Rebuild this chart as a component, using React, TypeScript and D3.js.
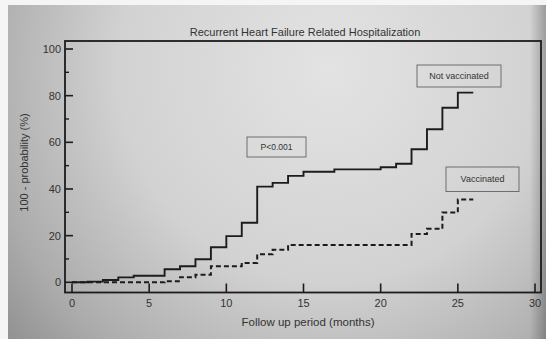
import React from "react";
import * as d3 from "d3";

// Kaplan–Meier style cumulative event curves (100 - survival probability, %)
const notVaccinatedMonths = [0, 1, 2, 3, 4, 6, 7, 8, 9, 10, 11, 12, 13, 14, 15, 17, 20, 21, 22, 23, 24, 25];
const notVaccinatedValues = [0, 0.3, 1.0, 2.1, 2.8, 5.6, 6.9, 9.9, 15.0, 19.8, 25.5, 41.0, 42.6, 45.6, 47.4, 48.4, 49.3, 50.8, 57.0, 65.6, 74.8, 81.3];
const notVaccinatedEnd = 26;

const vaccinatedMonths = [0, 6, 7, 8, 9, 11, 12, 13, 14, 22, 23, 24, 25];
const vaccinatedValues = [0, 0.5, 2.2, 3.2, 6.9, 8.3, 12.0, 14.0, 16.0, 20.7, 22.9, 29.9, 35.5];
const vaccinatedEnd = 26;

const xTicks = [0, 5, 10, 15, 20, 25, 30];
const yTicks = [0, 20, 40, 60, 80, 100];
const yMinorTicks = [10, 30, 50, 70, 90];

const title = "Recurrent Heart Failure Related Hospitalization";
const xTitle = "Follow up period (months)";
const yTitle = "100 - probability (%)";

const W = 546;
const H = 339;
const frame = { left: 65, right: 541, top: 41, bottom: 292.5 };

const x = d3.scaleLinear().domain([0, 30]).range([72, 535]);
const y = d3.scaleLinear().domain([0, 100]).range([282.3, 49]);

function stepPath(months: number[], values: number[], end: number) {
  const pts: [number, number][] = months.map((m, i) => [m, values[i]]);
  pts.push([end, values[values.length - 1]]);
  return d3
    .line<[number, number]>()
    .x((d) => x(d[0]))
    .y((d) => y(d[1]))
    .curve(d3.curveStepAfter)(pts) as string;
}

const font = "'Liberation Sans', Arial, sans-serif";
const ink = "#1c1c1c";
const textInk = "#333";

function LabelBox({ x0, y0, w, h, text, size }: { x0: number; y0: number; w: number; h: number; text: string; size: number }) {
  return (
    <g>
      <rect x={x0} y={y0} width={w} height={h} fill="none" stroke="#6e6e6e" strokeWidth={1} />
      <text x={x0 + w / 2} y={y0 + h / 2 + size * 0.35} textAnchor="middle" fontSize={size} fill={textInk} fontFamily={font}>
        {text}
      </text>
    </g>
  );
}

export default function App() {
  return (
    <svg
      width={W}
      height={H}
      viewBox={`0 0 ${W} ${H}`}
      style={{ position: "absolute", left: 0, top: 0 }}
    >
      <defs>
        <radialGradient id="paper" cx="330" cy="70" r="470" gradientUnits="userSpaceOnUse">
          <stop offset="0" stopColor="#e3e3e3" />
          <stop offset="0.45" stopColor="#d2d2d2" />
          <stop offset="0.75" stopColor="#ababab" />
          <stop offset="1" stopColor="#7e7e7e" />
        </radialGradient>
        <linearGradient id="edge" x1="0" x2="1" y1="0" y2="0">
          <stop offset="0" stopColor="#000" stopOpacity="0" />
          <stop offset="0.97" stopColor="#000" stopOpacity="0" />
          <stop offset="1" stopColor="#000" stopOpacity="0.25" />
        </linearGradient>
      </defs>

      <rect x={0} y={0} width={W} height={H} fill="#f5f5f5" />
      <rect x={8} y={5} width={W - 8} height={H - 5} fill="url(#paper)" />
      <rect x={8} y={5} width={W - 8} height={H - 5} fill="url(#edge)" />

      {/* title */}
      <text x={305} y={36} textAnchor="middle" fontSize={11} fill={textInk} fontFamily={font}>
        {title}
      </text>

      {/* frame */}
      <rect
        x={frame.left}
        y={frame.top}
        width={frame.right - frame.left}
        height={frame.bottom - frame.top}
        fill="none"
        stroke={ink}
        strokeWidth={1.8}
      />

      {/* y ticks (inward) */}
      {yTicks.map((t) => (
        <g key={`y${t}`}>
          <line x1={frame.left} x2={frame.left + 8} y1={y(t)} y2={y(t)} stroke={ink} strokeWidth={1.6} />
          <text x={61} y={y(t) + 4} textAnchor="end" fontSize={11} fill={textInk} fontFamily={font}>
            {t}
          </text>
        </g>
      ))}
      {yMinorTicks.map((t) => (
        <line key={`ym${t}`} x1={frame.left} x2={frame.left + 4} y1={y(t)} y2={y(t)} stroke={ink} strokeWidth={1.4} />
      ))}

      {/* x ticks (inward) */}
      {xTicks.map((t) => (
        <g key={`x${t}`}>
          <line x1={x(t)} x2={x(t)} y1={frame.bottom} y2={frame.bottom - 9} stroke={ink} strokeWidth={1.6} />
          <text x={x(t)} y={307} textAnchor="middle" fontSize={11} fill={textInk} fontFamily={font}>
            {t}
          </text>
        </g>
      ))}

      {/* axis titles */}
      <text x={308} y={326} textAnchor="middle" fontSize={11.5} fill={textInk} fontFamily={font}>
        {xTitle}
      </text>
      <text
        transform={`translate(28,162.5) rotate(-90)`}
        textAnchor="middle"
        fontSize={11}
        fill={textInk}
        fontFamily={font}
      >
        {yTitle}
      </text>

      {/* curves */}
      <path
        d={stepPath(vaccinatedMonths, vaccinatedValues, vaccinatedEnd)}
        fill="none"
        stroke={ink}
        strokeWidth={2}
        strokeDasharray="5,3"
      />
      <path
        d={stepPath(notVaccinatedMonths, notVaccinatedValues, notVaccinatedEnd)}
        fill="none"
        stroke={ink}
        strokeWidth={1.9}
      />

      {/* annotations */}
      <LabelBox x0={417} y0={65} w={84} h={22} text="Not vaccinated" size={9} />
      <LabelBox x0={446} y0={167} w={73} h={24.5} text="Vaccinated" size={9} />
      <LabelBox x0={247} y0={137} w={59} h={20} text="P<0.001" size={8.5} />
    </svg>
  );
}
